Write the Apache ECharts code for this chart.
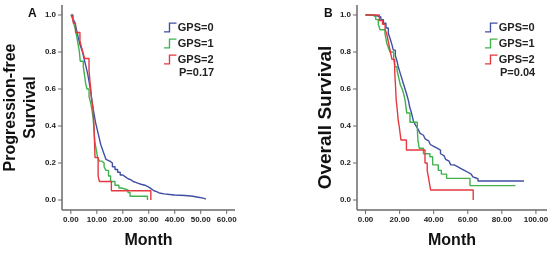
<!DOCTYPE html>
<html>
<head>
<meta charset="utf-8">
<script src="https://cdn.jsdelivr.net/npm/echarts@6/dist/echarts.min.js"></script>
<style>html,body{margin:0;padding:0;background:#fff;}#c{width:556px;height:254px;}</style>
</head>
<body>
<div id="c"></div>
<script>
// ---- Data ----
const seriesNames = ['GPS=0', 'GPS=1', 'GPS=2'];
const xTicksA = [0, 10, 20, 30, 40, 50, 60];
const xTicksB = [0, 20, 40, 60, 80, 100];
const yTicks = [0, 0.2, 0.4, 0.6, 0.8, 1.0];
const pValueA = 'P=0.17';
const pValueB = 'P=0.04';

// Panel A: Progression-free survival (time in months, survival)
const pfsGps0Time = [0, 0.8, 1.5, 2, 2.5, 3, 3.5, 4, 4.5, 5, 5.5, 6, 6.5, 7, 7.5, 8, 8.5, 9, 9.5, 10, 10.5, 11, 11.5, 12, 12.5, 13, 13.5, 14, 15, 16, 17, 18, 19, 20, 21, 22, 23, 24, 25, 26, 27, 28.5, 30, 31, 32, 33, 34, 36, 38, 40, 44, 46, 47, 49, 51, 52];
const pfsGps0Surv = [1, 0.98, 0.96, 0.93, 0.9, 0.87, 0.84, 0.82, 0.8, 0.77, 0.74, 0.71, 0.68, 0.64, 0.6, 0.55, 0.5, 0.46, 0.42, 0.39, 0.36, 0.33, 0.3, 0.28, 0.26, 0.24, 0.22, 0.21, 0.2, 0.18, 0.165, 0.15, 0.135, 0.125, 0.115, 0.11, 0.1, 0.095, 0.09, 0.085, 0.08, 0.07, 0.06, 0.05, 0.045, 0.038, 0.033, 0.03, 0.027, 0.024, 0.022, 0.02, 0.015, 0.01, 0.005, 0.005];
const pfsGps1Time = [0, 0.7, 1.2, 1.8, 2.3, 2.8, 3.3, 3.6, 4.8, 5.2, 5.7, 6.2, 7, 7.7, 8.2, 8.6, 8.9, 9.2, 9.8, 10.3, 11, 12, 12.8, 13.5, 14.5, 15.3, 17, 18.5, 19.5, 22, 22.8, 29.5];
const pfsGps1Surv = [1, 0.98, 0.95, 0.92, 0.88, 0.84, 0.8, 0.75, 0.72, 0.68, 0.63, 0.6, 0.56, 0.52, 0.48, 0.44, 0.38, 0.32, 0.27, 0.23, 0.21, 0.2, 0.18, 0.16, 0.13, 0.1, 0.08, 0.065, 0.055, 0.04, 0.02, 0.0];
const pfsGps2Time = [0.4, 1, 1.8, 3.5, 4.2, 4.8, 5.3, 7, 7.3, 7.6, 8, 8.5, 8.7, 8.9, 9.1, 9.3, 10.5, 11, 15.6, 30.8];
const pfsGps2Surv = [1, 0.955, 0.905, 0.86, 0.82, 0.79, 0.765, 0.7, 0.65, 0.61, 0.54, 0.5, 0.45, 0.4, 0.32, 0.23, 0.13, 0.1, 0.05, 0.0];

// Panel B: Overall survival
const osGps0Time = [0, 4.5, 9, 10.5, 12, 13.4, 14.5, 15.5, 16.3, 17.5, 18.5, 19.2, 20.2, 21.2, 22.2, 23.2, 24.2, 25.1, 26, 27, 28, 29, 30, 31, 32, 33, 34, 35, 36, 37, 38, 39, 40, 42, 44, 45, 46, 47, 48, 49, 50, 52, 54, 56, 58, 60, 62, 63, 64, 66, 93];
const osGps0Surv = [1, 0.99, 0.975, 0.955, 0.93, 0.9, 0.87, 0.84, 0.81, 0.78, 0.75, 0.72, 0.69, 0.66, 0.63, 0.6, 0.57, 0.54, 0.5, 0.47, 0.43, 0.41, 0.395, 0.38, 0.36, 0.35, 0.34, 0.33, 0.32, 0.31, 0.3, 0.29, 0.28, 0.27, 0.25, 0.24, 0.23, 0.22, 0.21, 0.2, 0.19, 0.18, 0.17, 0.16, 0.15, 0.14, 0.135, 0.125, 0.115, 0.103, 0.103];
const osGps1Time = [0, 4, 6, 7.5, 8.5, 11.4, 12.4, 13.5, 14.4, 16.5, 17.3, 18.5, 19.5, 20.5, 21.5, 22.5, 23.2, 24.2, 26.1, 30.4, 30.8, 31.5, 34, 37.8, 39.4, 42.7, 44.5, 47.6, 61.3, 88];
const osGps1Surv = [1, 0.99, 0.975, 0.95, 0.92, 0.9, 0.85, 0.82, 0.8, 0.76, 0.72, 0.7, 0.66, 0.62, 0.6, 0.57, 0.54, 0.47, 0.42, 0.38, 0.32, 0.28, 0.25, 0.234, 0.19, 0.16, 0.14, 0.117, 0.078, 0.078];
const osGps2Time = [0, 8.1, 10, 11.5, 12.4, 13.5, 14.4, 15.5, 17.1, 17.4, 17.7, 18, 18.6, 19.2, 19.8, 20.8, 24, 34.9, 36.2, 37.2, 38.2, 63.2];
const osGps2Surv = [1, 0.97, 0.95, 0.92, 0.9, 0.85, 0.81, 0.76, 0.7, 0.65, 0.6, 0.54, 0.49, 0.43, 0.396, 0.324, 0.27, 0.2, 0.16, 0.108, 0.054, 0.0];

// ---- Build ----
const zip = (t, s) => t.map((v, i) => [v, s[i]]);
const colors = ['#3f4fa3', '#3fb14d', '#e5393f'];
const FONT = '"Liberation Sans", Arial, sans-serif';
const AXIS_COLOR = '#6a6a6a';
const X_RANGE = [[-3.4, 63.2], [-5, 106.5]];
const Y_RANGE = [-0.054, 1.054];

function xAxisCfg(grid, ticks) {
  return {
    type: 'value', gridIndex: grid, min: X_RANGE[grid][0], max: X_RANGE[grid][1], position: 'bottom',
    name: 'Month', nameLocation: 'middle', nameGap: 23,
    nameTextStyle: { fontFamily: FONT, fontSize: 16, fontWeight: 'bold', color: '#111' },
    axisLine: { show: false, onZero: false },
    axisTick: { show: false },
    axisLabel: { show: true, customValues: ticks, margin: 6, fontFamily: FONT, fontSize: 8, fontWeight: 'bold', color: '#222',
      formatter: v => v.toFixed(2) },
    splitLine: { show: false }
  };
}
function yAxisCfg(grid, name, size, gap, pad) {
  return {
    type: 'value', gridIndex: grid, min: Y_RANGE[0], max: Y_RANGE[1], position: 'left',
    name: name, nameLocation: 'middle', nameGap: gap, nameRotate: 90,
    nameTextStyle: { fontFamily: FONT, fontSize: size, fontWeight: 'bold', color: '#111', lineHeight: 20, padding: pad },
    axisLine: { show: false, onZero: false },
    axisTick: { show: false },
    axisLabel: { show: true, customValues: yTicks, margin: 6, fontFamily: FONT, fontSize: 8, fontWeight: 'bold', color: '#222',
      formatter: v => v.toFixed(1) },
    splitLine: { show: false }
  };
}
function lineSeries(name, idx, data, grid) {
  return {
    type: 'line', name: name, xAxisIndex: grid, yAxisIndex: grid, step: 'end',
    showSymbol: false, symbol: 'none', data: data, animation: false,
    lineStyle: { color: colors[idx], width: 1.4 }, itemStyle: { color: colors[idx] }
  };
}
const stepIcon = 'path://M0,9 L5,9 L5,0 L13,0 L13,1.4 L6.4,1.4 L6.4,10.4 L0,10.4 Z';
function legendCfg(left) {
  return {
    data: seriesNames, orient: 'vertical', left: left, top: 22, itemGap: 5, padding: 0,
    itemWidth: 13, itemHeight: 10, icon: stepIcon, selectedMode: false,
    textStyle: { fontFamily: FONT, fontSize: 11, fontWeight: 'bold', color: '#222', padding: [0, 0, 0, -4] }
  };
}

const chart = echarts.init(document.getElementById('c'));
chart.setOption({
  backgroundColor: '#fff',
  animation: false,
  grid: [
    { left: 60, top: 5, width: 175, height: 205 },
    { left: 357, top: 5, width: 190, height: 205 }
  ],
  xAxis: [xAxisCfg(0, xTicksA), xAxisCfg(1, xTicksB)],
  yAxis: [
    yAxisCfg(0, 'Progression-free\nSurvival', 16, 4, [0, 0, 0, 0]),
    yAxisCfg(1, 'Overall Survival', 19, 13, [0, 20, 0, 0])
  ],
  legend: [legendCfg(164), legendCfg(485)],
  series: [
    lineSeries(seriesNames[0], 0, zip(pfsGps0Time, pfsGps0Surv), 0),
    lineSeries(seriesNames[1], 1, zip(pfsGps1Time, pfsGps1Surv), 0),
    lineSeries(seriesNames[2], 2, zip(pfsGps2Time, pfsGps2Surv), 0),
    lineSeries(seriesNames[0], 0, zip(osGps0Time, osGps0Surv), 1),
    lineSeries(seriesNames[1], 1, zip(osGps1Time, osGps1Surv), 1),
    lineSeries(seriesNames[2], 2, zip(osGps2Time, osGps2Surv), 1)
  ]
});

// Axis lines and tick marks, positioned through the chart's own axis scales
function axisGraphics(grid, xTicks) {
  const toPx = (v) => chart.convertToPixel({ gridIndex: grid }, v);
  const [xmin, xmax] = X_RANGE[grid];
  const bl = toPx([xmin, Y_RANGE[0]]);
  const tr = toPx([xmax, Y_RANGE[1]]);
  const st = { stroke: AXIS_COLOR, lineWidth: 1.5 };
  const tk = { stroke: AXIS_COLOR, lineWidth: 1 };
  const els = [
    { type: 'line', z: 10, shape: { x1: bl[0], y1: bl[1], x2: tr[0], y2: bl[1] }, style: st },
    { type: 'line', z: 10, shape: { x1: bl[0], y1: bl[1], x2: bl[0], y2: tr[1] }, style: st }
  ];
  xTicks.forEach(t => {
    const p = toPx([t, Y_RANGE[0]]);
    els.push({ type: 'line', z: 10, shape: { x1: p[0], y1: bl[1], x2: p[0], y2: bl[1] + 4 }, style: tk });
  });
  yTicks.forEach(t => {
    const p = toPx([xmin, t]);
    els.push({ type: 'line', z: 10, shape: { x1: bl[0] - 4, y1: p[1], x2: bl[0], y2: p[1] }, style: tk });
  });
  return els;
}

chart.setOption({
  graphic: [
    ...axisGraphics(0, xTicksA),
    ...axisGraphics(1, xTicksB),
    { type: 'text', left: 28, top: 8, style: { text: 'A', font: 'bold 12px ' + FONT, fill: '#111' } },
    { type: 'text', left: 324, top: 8, style: { text: 'B', font: 'bold 12px ' + FONT, fill: '#111' } },
    { type: 'text', left: 179, top: 67, style: { text: pValueA, font: 'bold 11px ' + FONT, fill: '#222' } },
    { type: 'text', left: 500, top: 67, style: { text: pValueB, font: 'bold 11px ' + FONT, fill: '#222' } }
  ]
});
</script>
</body>
</html>
